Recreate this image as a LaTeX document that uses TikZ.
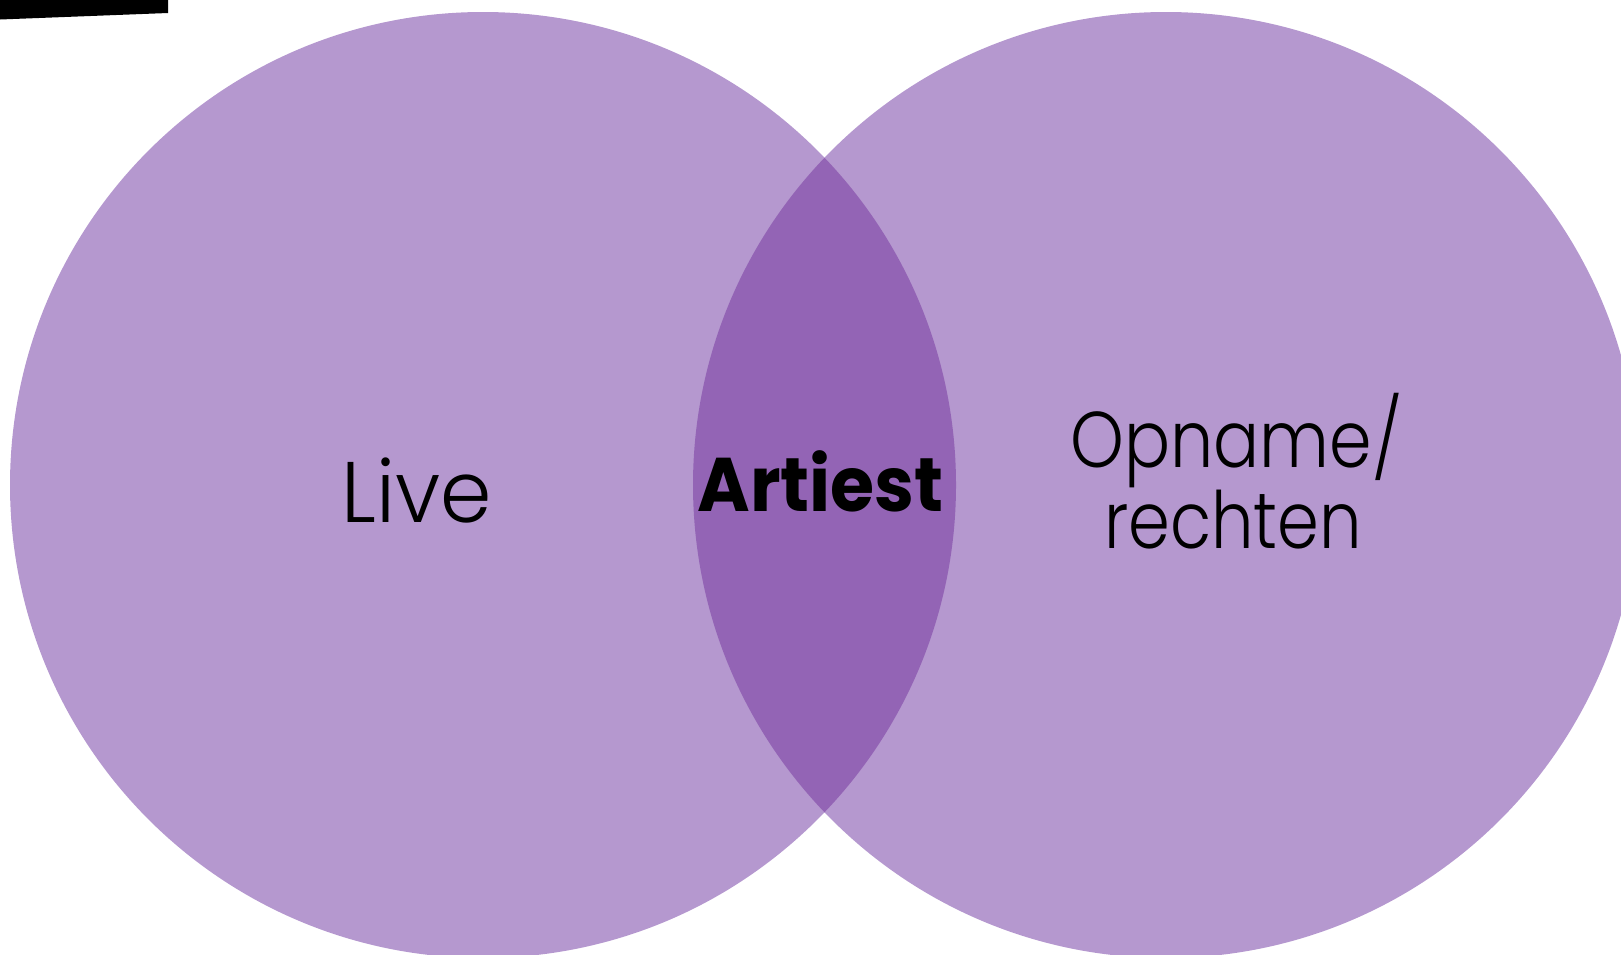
\documentclass[tikz,border=0pt]{standalone}
\usepackage{fontspec}
\usepackage{graphicx}
\setmainfont{Poppins}
\newfontfamily\lightfont{Poppins Light}
\definecolor{lightpurple}{RGB}{181,152,207}
\definecolor{darkpurple}{RGB}{147,100,181}
\begin{document}
\begin{tikzpicture}[x=1pt,y=-1pt,
  setcircle/.style={fill=lightpurple,draw=none},
  lbl/.style={inner sep=0pt,anchor=base,text=black}]
\useasboundingbox (0,0) rectangle (1621,954);
\clip (0,0) rectangle (1621,954);
\fill (0,-5) -- (168,-5) -- (168,13) -- (0,19.5) -- cycle;
\path[setcircle] (483,485) circle[radius=473];
\path[setcircle] (1166,485) circle[radius=473];
\begin{scope}
  \clip (483,485) circle[radius=473];
  \fill[darkpurple] (1166,485) circle[radius=473];
\end{scope}
\node[lbl,font=\lightfont\fontsize{86}{86}\selectfont] (live) at (416.5,522) {\scalebox{0.96}[1]{Live}};
\node[lbl,font=\bfseries\fontsize{76}{76}\selectfont] (artiest) at (820.5,511) {\scalebox{0.94}[1]{Artiest}};
\node[lbl,font=\lightfont\fontsize{79}{79}\selectfont] (opname) at (1236.5,467) {\scalebox{0.865}[1]{Opname/}};
\node[lbl,font=\lightfont\fontsize{79}{79}\selectfont] (rechten) at (1233,548) {\scalebox{0.85}[1]{rechten}};
\end{tikzpicture}
\end{document}
